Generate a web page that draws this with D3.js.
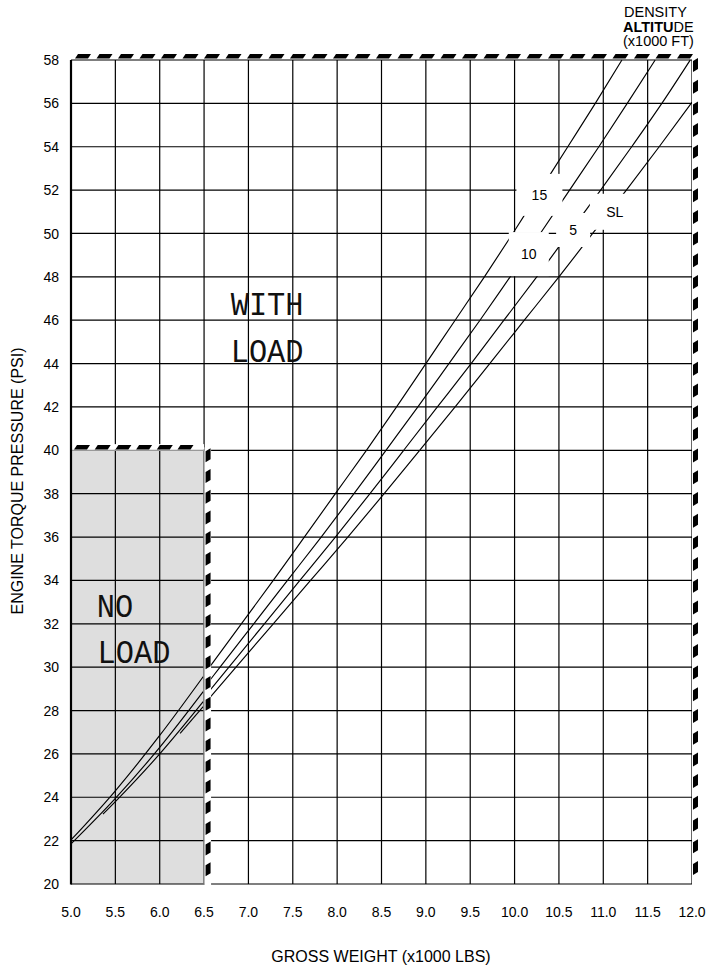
<!DOCTYPE html>
<html><head><meta charset="utf-8">
<script src="https://cdn.jsdelivr.net/npm/d3@7"></script>
<style>body{margin:0;background:#fff}svg{display:block}</style>
</head><body>
<svg id="chart" width="710" height="967"></svg>
<script>
// ---------- data ----------
const weightTicks = [5.0,5.5,6.0,6.5,7.0,7.5,8.0,8.5,9.0,9.5,10.0,10.5,11.0,11.5,12.0];
const weightTickLabels = ["5.0","5.5","6.0","6.5","7.0","7.5","8.0","8.5","9.0","9.5","10.0","10.5","11.0","11.5","12.0"];
const torqueTicks = [20,22,24,26,28,30,32,34,36,38,40,42,44,46,48,50,52,54,56,58];
const torqueTickLabels = ["20","22","24","26","28","30","32","34","36","38","40","42","44","46","48","50","52","54","56","58"];

const altitudeNames = ["15","10","5","SL"];
// with-load curves: [gross weight (x1000 lb), torque (psi)]
const withLoad15 = [[6.57,30.05],[6.92,32],[7.28,34],[7.63,36],[7.98,38],[8.33,40],[8.67,42],[9.0,44],[9.33,46],[9.66,48],[9.98,50],[10.29,52],[10.60,54],[10.91,56],[11.21,58]];
const withLoad10 = [[6.57,29.42],[6.68,30],[7.06,32],[7.44,34],[7.82,36],[8.19,38],[8.55,40],[8.91,42],[9.26,44],[9.61,46],[9.95,48],[10.29,50],[10.62,52],[10.95,54],[11.27,56],[11.585,58]];
const withLoad5  = [[6.57,28.95],[6.78,30],[7.18,32],[7.58,34],[7.98,36],[8.37,38],[8.75,40],[9.13,42],[9.51,44],[9.88,46],[10.25,48],[10.61,50],[10.97,52],[11.32,54],[11.66,56],[11.98,58]];
const withLoadSL = [[6.57,28.62],[6.86,30],[7.28,32],[7.70,34],[8.12,36],[8.53,38],[8.93,40],[9.33,42],[9.72,44],[10.11,46],[10.50,48],[10.88,50],[11.26,52],[11.63,54],[12.0,56.05]];
// no-load curves
const noLoad15 = [[5.0,22.03],[5.5,24.3],[6.0,26.85],[6.49,29.56]];
const noLoad10 = [[5.0,21.85],[5.5,23.95],[6.0,26.3],[6.49,28.87]];
const noLoad5  = [[5.36,23.22],[5.5,23.8],[6.0,26.0],[6.49,28.41]];
const noLoadSL = [[6.23,26.95],[6.49,28.18]];

// curve label anchors (weight, torque)
const labelWeight = [10.28,10.16,10.66,11.13];
const labelTorque = [51.78,49.05,50.16,51.0];

// regions
const noLoadWeightMax = 6.5;
const noLoadTorqueMax = 40;
const regionText = ["WITH","LOAD","NO","LOAD"];
const regionTextWeight = [6.80,6.80,5.29,5.30];
const regionTextTorque = [46.24,44.07,32.33,30.18];

// ---------- drawing ----------
const svg = d3.select("#chart");
const x = d3.scaleLinear().domain([5,12]).range([71,692]);
const y = d3.scaleLinear().domain([20,58]).range([884,60]);
const FONT = "'Liberation Sans', Arial, Helvetica, sans-serif";

// no-load grey region
svg.append("rect")
  .attr("x", x(5)).attr("y", y(noLoadTorqueMax))
  .attr("width", x(noLoadWeightMax)-x(5)).attr("height", y(20)-y(noLoadTorqueMax))
  .attr("fill", "#dedede");

// grid
const grid = svg.append("g").attr("stroke","#000").attr("stroke-width",1.2);
grid.selectAll("line.v").data(weightTicks).join("line")
  .attr("x1", d=>x(d)).attr("x2", d=>x(d)).attr("y1", y(20)).attr("y2", y(58));
grid.selectAll("line.h").data(torqueTicks).join("line")
  .attr("x1", x(5)).attr("x2", x(12)).attr("y1", d=>y(d)).attr("y2", d=>y(d));

// curves
const line = d3.line().x(d=>x(d[0])).y(d=>y(d[1])).curve(d3.curveMonotoneX);
const curves = [withLoad15,withLoad10,withLoad5,withLoadSL,noLoad15,noLoad10,noLoad5,noLoadSL];
svg.append("g").selectAll("path").data(curves).join("path")
  .attr("d", line).attr("fill","none").attr("stroke","#000").attr("stroke-width",1.15);

// hazard borders
function hazardH(xa, xb, yl, start, period, len, h, slant) {
  const g = svg.append("g");
  g.append("rect").attr("x", xa).attr("y", yl-h-1).attr("width", xb-xa).attr("height", h+1).attr("fill","#fff");
  const pts = [];
  for (let p = xa+start; p + len <= xb + 1; p += period) pts.push(p);
  g.selectAll("path").data(pts).join("path")
    .attr("d", p => `M${p},${yl} L${p+len},${yl} L${p+len+slant},${yl-h} L${p+slant},${yl-h} Z`)
    .attr("fill","#000");
  return g;
}
function hazardV(xl, ya, yb, start, period, len, w, slant) {
  const g = svg.append("g");
  g.append("rect").attr("x", xl).attr("y", ya).attr("width", w+1.5).attr("height", yb-ya).attr("fill","#fff");
  const pts = [];
  for (let p = ya+start; p + len <= yb + 2; p += period) pts.push(p);
  g.selectAll("path").data(pts).join("path")
    .attr("d", p => `M${xl+1},${p+slant} L${xl+1+w},${p} L${xl+1+w},${p+len} L${xl+1},${p+len+slant} Z`)
    .attr("fill","#000");
  return g;
}
// main top & right border
hazardH(x(5), x(12), y(58)-1.5, 4, 21.5, 13, 4.5, 3);
hazardV(x(12), y(58)-3, y(20)+1, 1, 21.7, 11, 5, 3);
// no-load borders
svg.append("line").attr("x1", x(5)).attr("x2", x(noLoadWeightMax)).attr("y1", y(noLoadTorqueMax)).attr("y2", y(noLoadTorqueMax)).attr("stroke","#999").attr("stroke-width",1.3);
hazardH(x(5), x(noLoadWeightMax), y(noLoadTorqueMax)-0.7, 3, 20.7, 13, 4.5, 3);
svg.append("line").attr("x1", x(noLoadWeightMax)).attr("x2", x(noLoadWeightMax)).attr("y1", y(noLoadTorqueMax)).attr("y2", y(20)).attr("stroke","#999").attr("stroke-width",1.3);
hazardV(x(noLoadWeightMax)+0.5, y(noLoadTorqueMax)-3, y(20)+1, 1, 20.7, 11, 5, 3);

// left axis line (heavier)
svg.append("line").attr("x1", x(5)).attr("x2", x(5)).attr("y1", y(58)).attr("y2", y(20)+0.5)
  .attr("stroke","#000").attr("stroke-width",2.2);

// curve labels with white boxes
const boxHalfW = [23,20,17,25], boxHalfH = [21,22,17,18];
const lab = svg.append("g");
lab.selectAll("rect").data(altitudeNames).join("rect")
  .attr("x", (d,i)=>x(labelWeight[i])-boxHalfW[i]).attr("y", (d,i)=>y(labelTorque[i])-boxHalfH[i])
  .attr("width", (d,i)=>2*boxHalfW[i]).attr("height", (d,i)=>2*boxHalfH[i]).attr("fill","#fff");
lab.selectAll("text").data(altitudeNames).join("text")
  .attr("x", (d,i)=>x(labelWeight[i])).attr("y", (d,i)=>y(labelTorque[i]))
  .attr("dy","0.36em").attr("text-anchor","middle")
  .attr("font-family", FONT).attr("font-size", 14).text(d=>d);

// region text (slightly condensed monospace)
svg.append("g").selectAll("text").data(regionText).join("text")
  .attr("transform", (d,i)=>`translate(${x(regionTextWeight[i])},${y(regionTextTorque[i])}) scale(0.92,1)`)
  .attr("font-family","'Liberation Mono', 'DejaVu Sans Mono', monospace").attr("font-size",33).attr("fill","#111")
  .text(d=>d);

// tick labels
svg.append("g").selectAll("text").data(torqueTicks).join("text")
  .attr("x", x(5)-12).attr("y", d=>y(d)).attr("dy","0.36em").attr("text-anchor","end")
  .attr("font-family", FONT).attr("font-size", 14).text((d,i)=>torqueTickLabels[i]);
svg.append("g").selectAll("text").data(weightTicks).join("text")
  .attr("x", d=>x(d)).attr("y", y(20)+33).attr("text-anchor","middle")
  .attr("font-family", FONT).attr("font-size", 14).text((d,i)=>weightTickLabels[i]);

// axis titles
svg.append("text").attr("x", 381).attr("y", 962).attr("text-anchor","middle")
  .attr("font-family", FONT).attr("font-size", 16).text("GROSS WEIGHT (x1000 LBS)");
svg.append("text").attr("transform", `translate(23,${(y(20)+y(58))/2 + 9}) rotate(-90)`)
  .attr("text-anchor","middle").attr("font-family", FONT).attr("font-size", 16)
  .text("ENGINE TORQUE PRESSURE (PSI)");

// density altitude header
const hdr = svg.append("text").attr("font-family", FONT).attr("font-size", 14.5);
hdr.append("tspan").attr("x", 624).attr("y", 17).text("DENSITY");
const alt = hdr.append("tspan").attr("x", 623).attr("y", 31.5);
alt.append("tspan").attr("font-weight","bold").text("ALTITU");
alt.append("tspan").text("DE");
hdr.append("tspan").attr("x", 623).attr("y", 46).text("(x1000 FT)");
</script>
</body></html>
